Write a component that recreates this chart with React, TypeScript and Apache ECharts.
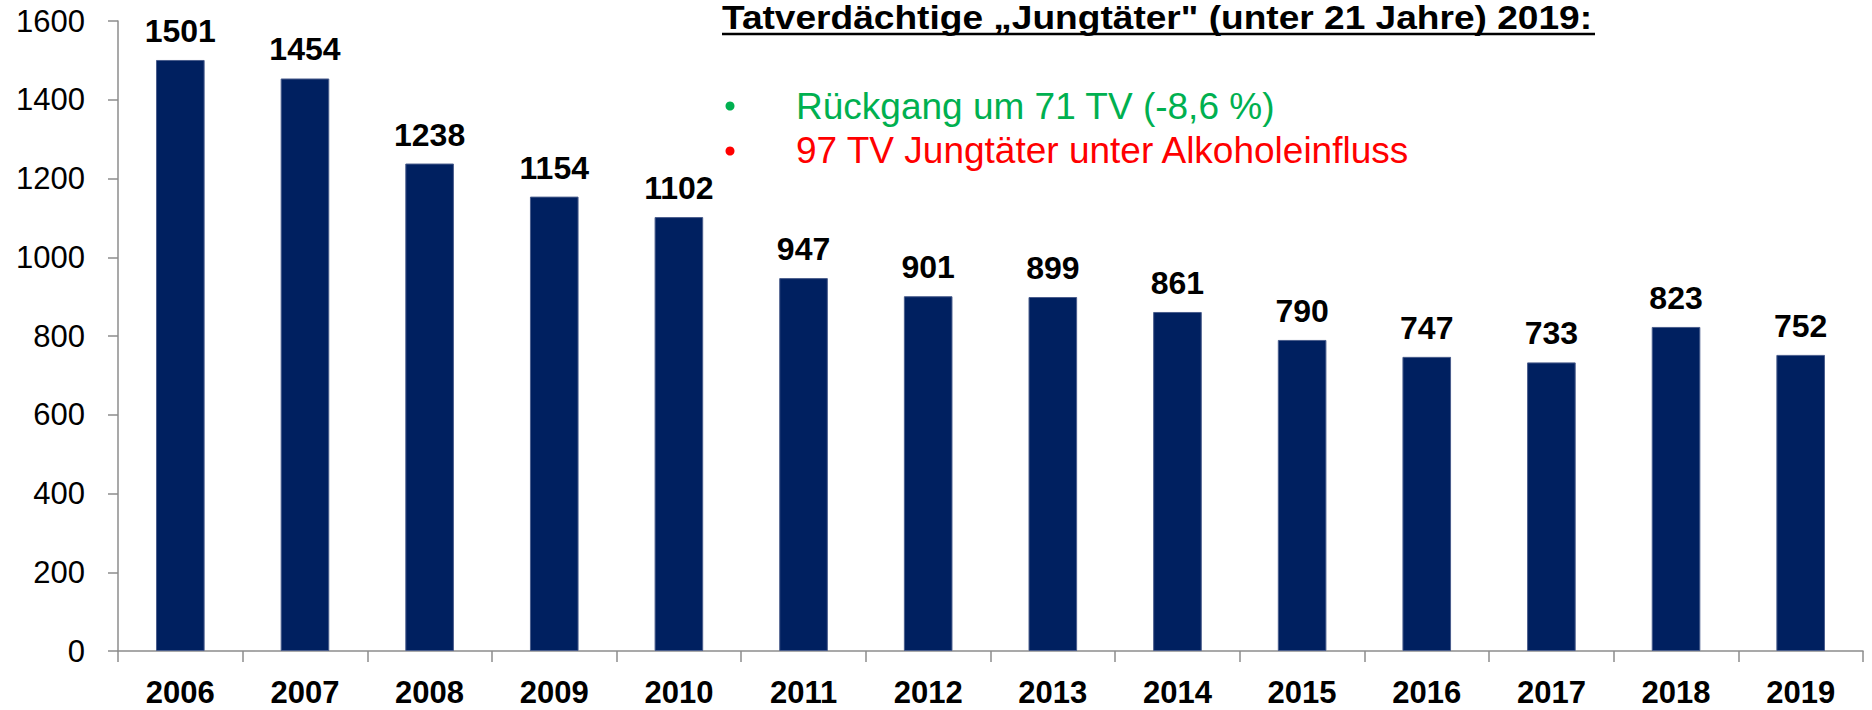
import React, { useEffect, useRef } from "react";
import * as echarts from "echarts";

const years = ["2006", "2007", "2008", "2009", "2010", "2011", "2012", "2013", "2014", "2015", "2016", "2017", "2018", "2019"];
const suspects = [1501, 1454, 1238, 1154, 1102, 947, 901, 899, 861, 790, 747, 733, 823, 752];
const titleText = "Tatverdächtige „Jungtäter\" (unter 21 Jahre) 2019:";
const bulletGreen = "Rückgang um 71 TV (-8,6 %)";
const bulletRed = "97 TV Jungtäter unter Alkoholeinfluss";

const FONT = "Arial, 'Liberation Sans', sans-serif";

export default function App() {
  const ref = useRef<HTMLDivElement>(null);
  useEffect(() => {
    if (!ref.current) return;
    const chart = echarts.init(ref.current, null, { renderer: "svg" });
    chart.setOption({
      animation: false,
      backgroundColor: "#ffffff",
      textStyle: { fontFamily: FONT },
      grid: { left: 118, right: 9, top: 21, bottom: 59, containLabel: false },
      xAxis: {
        type: "category",
        data: years,
        axisLine: { show: true, lineStyle: { color: "#8c8c8c", width: 1.5 } },
        axisTick: { show: true, length: 11, alignWithLabel: false, lineStyle: { color: "#8c8c8c", width: 1.5 } },
        axisLabel: { color: "#000", fontSize: 31, fontWeight: "bold", fontFamily: FONT, margin: 26 },
      },
      yAxis: {
        type: "value",
        min: 0,
        max: 1600,
        interval: 200,
        splitLine: { show: false },
        axisLine: { show: true, lineStyle: { color: "#8c8c8c", width: 1.5 } },
        axisTick: { show: true, length: 10, lineStyle: { color: "#8c8c8c", width: 1.5 } },
        axisLabel: {
          color: "#000",
          fontSize: 31,
          fontFamily: FONT,
          margin: 33,
          formatter: (v: number) => String(v),
        },
      },
      series: [
        {
          type: "bar",
          data: suspects,
          barWidth: "39%",
          itemStyle: { color: "#002060", borderColor: "#4a5d8c", borderWidth: 1 },
          label: {
            show: true,
            position: "top",
            distance: 13,
            color: "#000",
            fontSize: 32,
            fontWeight: "bold",
            fontFamily: FONT,
          },
        },
      ],
      graphic: [
        {
          type: "text",
          x: 722,
          y: 17.5,
          scaleX: 1.124,
          style: {
            text: titleText,
            fontSize: 33,
            fontWeight: "bold",
            fontFamily: FONT,
            fill: "#000",
            textAlign: "left",
            verticalAlign: "middle",
          },
        },
        {
          type: "line",
          shape: { x1: 722, y1: 34, x2: 1595, y2: 34 },
          style: { stroke: "#000", lineWidth: 2.5 },
        },
        {
          type: "circle",
          shape: { cx: 730, cy: 106, r: 4.5 },
          style: { fill: "#00B050" },
        },
        {
          type: "text",
          x: 796,
          y: 106.5,
          style: {
            text: bulletGreen,
            fontSize: 37,
            fontFamily: FONT,
            fill: "#00B050",
            textAlign: "left",
            verticalAlign: "middle",
          },
        },
        {
          type: "circle",
          shape: { cx: 730, cy: 151, r: 4.5 },
          style: { fill: "#FF0000" },
        },
        {
          type: "text",
          x: 796,
          y: 150.5,
          style: {
            text: bulletRed,
            fontSize: 37,
            fontFamily: FONT,
            fill: "#FF0000",
            textAlign: "left",
            verticalAlign: "middle",
          },
        },
      ],
    });
    return () => chart.dispose();
  }, []);
  return (
    <div
      ref={ref}
      style={{ position: "fixed", left: 0, top: 0, width: 1872, height: 710 }}
    />
  );
}
